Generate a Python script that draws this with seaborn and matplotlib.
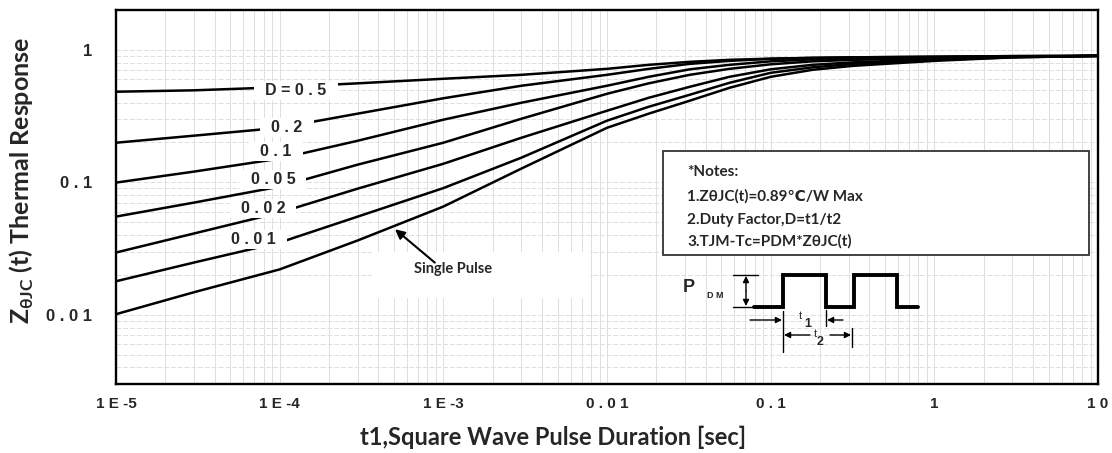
import numpy as np
import pandas as pd
import matplotlib.pyplot as plt
import seaborn as sns
from matplotlib.patches import Rectangle
from matplotlib.ticker import LogLocator, NullFormatter

# pulse duration [sec]
t = [1e-5, 3e-5, 1e-4, 3e-4, 1e-3, 3e-3, 1e-2, 1.8e-2, 3.2e-2, 5.6e-2, 0.1, 0.18, 0.32, 1, 3, 10]

# normalized thermal response for each duty factor
z_d05 = [0.483, 0.495, 0.522, 0.559, 0.605, 0.648, 0.719, 0.771, 0.812, 0.841, 0.858, 0.870, 0.878, 0.889, 0.897, 0.901]
z_d02 = [0.199, 0.225, 0.258, 0.330, 0.431, 0.536, 0.648, 0.719, 0.784, 0.826, 0.856, 0.870, 0.878, 0.886, 0.897, 0.901]
z_d01 = [0.0995, 0.1205, 0.151, 0.206, 0.297, 0.399, 0.536, 0.626, 0.713, 0.771, 0.819, 0.848, 0.863, 0.878, 0.893, 0.901]
z_d005 = [0.0551, 0.0703, 0.0928, 0.136, 0.199, 0.302, 0.466, 0.559, 0.648, 0.719, 0.778, 0.819, 0.841, 0.863, 0.886, 0.901]
z_d002 = [0.0295, 0.0411, 0.0591, 0.0896, 0.138, 0.217, 0.347, 0.435, 0.526, 0.626, 0.713, 0.771, 0.805, 0.848, 0.886, 0.901]
z_d001 = [0.0179, 0.0248, 0.0351, 0.0551, 0.0904, 0.1535, 0.292, 0.372, 0.458, 0.564, 0.671, 0.738, 0.784, 0.841, 0.878, 0.901]
z_single = [0.0101, 0.0148, 0.0220, 0.0364, 0.0656, 0.127, 0.258, 0.330, 0.413, 0.517, 0.626, 0.707, 0.758, 0.826, 0.878, 0.901]

curve_names = ["0.5", "0.2", "0.1", "0.05", "0.02", "0.01", "single"]
curve_values = [z_d05, z_d02, z_d01, z_d005, z_d002, z_d001, z_single]
curve_labels = ["D = 0 . 5", "0 . 2", "0 . 1", "0 . 0 5", "0 . 0 2", "0 . 0 1"]

x_ticks = [1e-5, 1e-4, 1e-3, 1e-2, 1e-1, 1, 10]
x_tick_labels = ["1 E -5", "1 E -4", "1 E -3", "0 . 0 1", "0 . 1", "1", "1 0"]
y_ticks = [0.01, 0.1, 1]
y_tick_labels = ["0 . 0 1", "0 . 1", "1"]

notes = ["*Notes:", "1.Z\u03b8JC(t)=0.89\u2103/W Max", "2.Duty Factor,D=t1/t2", "3.TJM-Tc=PDM*Z\u03b8JC(t)"]

rows = []
for name, vals in zip(curve_names, curve_values):
    for ti, zi in zip(t, vals):
        rows.append({"t": ti, "z": zi, "D": name})
df = pd.DataFrame(rows)

sns.set_style("white")
plt.rcParams['font.family'] = ['Liberation Sans', 'DejaVu Sans']
calibri = ['Lato', 'DejaVu Sans']

W, H = 1112, 453
L, R, T, B = 116, 1098, 10, 384
fig = plt.figure(figsize=(W / 100, H / 100), dpi=100)
ax = fig.add_axes([L / W, 1 - B / H, (R - L) / W, (B - T) / H])


def P(x, y):
    # pixel position (from top-left of image) -> axes fraction
    return ((x - L) / (R - L), (B - y) / (B - T))


sns.lineplot(data=df, x="t", y="z", units="D", estimator=None, sort=False,
             color="black", lw=1.8, ax=ax, legend=False, zorder=3)

ax.set_xscale("log")
ax.set_yscale("log")
ax.set_xlim(1e-5, 10)
ax.set_ylim(0.003, 2)
ax.set_xlabel("")
ax.set_ylabel("")

ax.set_xticks(x_ticks)
ax.set_xticklabels(x_tick_labels, fontsize=11, fontweight="bold")
ax.set_yticks(y_ticks)
ax.set_yticklabels(y_tick_labels, fontsize=12, fontweight="bold")
for axis in (ax.xaxis, ax.yaxis):
    axis.set_minor_locator(LogLocator(base=10, subs=np.arange(2, 10)))
    axis.set_minor_formatter(NullFormatter())

ax.tick_params(which="both", direction="in", top=False, right=False, color="black")
ax.tick_params(axis="y", which="major", length=9, width=1.3, pad=17)
ax.tick_params(axis="y", which="minor", length=5, width=1.3)
ax.tick_params(axis="x", which="major", length=8, width=1.3, pad=9)
ax.tick_params(axis="x", which="minor", length=5, width=1.3)

ax.set_axisbelow(True)
ax.xaxis.grid(True, which="both", color="#dedede", lw=0.7)
ax.yaxis.grid(True, which="both", color="#dedede", lw=0.7, ls=(0, (5, 2)))
for s in ax.spines.values():
    s.set_linewidth(1.7)
    s.set_color("black")

# labels on the curves
label_pos = [(1.26e-4, 0.4935), (1.11e-4, 0.26), (9.5e-5, 0.1713),
             (9.1e-5, 0.1047), (7.9e-5, 0.063), (6.9e-5, 0.037)]
for (lx, ly), txt in zip(label_pos, curve_labels):
    ax.text(lx, ly, "  " + txt + "  ", ha="center", va="center", fontsize=11.5,
            fontweight="bold", zorder=4,
            bbox=dict(fc="white", ec="none", pad=1.5))

# single pulse label
ax.add_patch(Rectangle(P(372, 298), (590 - 372) / (R - L), 46 / (B - T),
                       transform=ax.transAxes, fc="white", ec="none", zorder=1.5))
ax.text(1.15e-3, 0.022, "Single Pulse", ha="center", va="center", fontsize=10.5,
        fontweight="bold", family=calibri, zorder=4)
ax.annotate("", xy=(4.92e-4, 0.0456), xytext=(9.14e-4, 0.024),
            arrowprops=dict(arrowstyle="-|>", color="black", lw=1.5, mutation_scale=14),
            zorder=4)

# notes box
x0, y0 = P(663, 255)
x1, y1 = P(1089, 151)
ax.add_patch(Rectangle((x0, y0), x1 - x0, y1 - y0, transform=ax.transAxes,
                       fc="white", ec="#333333", lw=1.3, zorder=5, clip_on=False))
for txt, yy in zip(notes, [172, 196, 220, 241]):
    ax.text(*P(687, yy), txt, transform=ax.transAxes, ha="left", va="center",
            fontsize=11, fontweight="bold", family=calibri, zorder=6)

# pulse waveform sketch
wx = [754, 783, 783, 826, 826, 854, 854, 897, 897, 918]
wy = [307, 307, 275, 275, 307, 307, 275, 275, 307, 307]
pts = [P(a, b) for a, b in zip(wx, wy)]
ax.plot([p[0] for p in pts], [p[1] for p in pts], transform=ax.transAxes,
        color="black", lw=2.8, solid_joinstyle="miter", clip_on=False, zorder=6)


def seg(xa, ya, xb, yb, lw=1.0):
    pa, pb = P(xa, ya), P(xb, yb)
    ax.plot([pa[0], pb[0]], [pa[1], pb[1]], transform=ax.transAxes,
            color="black", lw=lw, clip_on=False, zorder=6)


def arrow(xa, ya, xb, yb):
    ax.annotate("", xy=P(xb, yb), xytext=P(xa, ya), xycoords="axes fraction",
                textcoords="axes fraction", zorder=6,
                arrowprops=dict(arrowstyle="-|>", color="black", lw=1.0,
                                mutation_scale=9, shrinkA=0, shrinkB=0))


seg(733, 275, 758, 275)
seg(733, 307, 758, 307)
arrow(746, 291, 746, 276)
arrow(746, 291, 746, 306)
seg(783, 311, 783, 352)
seg(826, 310, 826, 326)
seg(852, 328, 852, 347)
arrow(750, 320, 782, 320)
arrow(843, 320, 827, 320)
arrow(810, 335, 784, 335)
arrow(830, 335, 851, 335)
ax.text(*P(689, 287), "P", transform=ax.transAxes, ha="center", va="center",
        fontsize=13, fontweight="bold", zorder=6)
ax.text(*P(715, 295), "D M", transform=ax.transAxes, ha="center", va="center",
        fontsize=6.5, fontweight="bold", zorder=6)
ax.text(*P(800, 316), "t", transform=ax.transAxes, ha="center", va="center",
        fontsize=8, zorder=6)
ax.text(*P(808, 324), "1", transform=ax.transAxes, ha="center", va="center",
        fontsize=9, fontweight="bold", zorder=6)
ax.text(*P(815, 334), "t", transform=ax.transAxes, ha="center", va="center",
        fontsize=8, zorder=6)
ax.text(*P(820, 342), "2", transform=ax.transAxes, ha="center", va="center",
        fontsize=9, fontweight="bold", zorder=6)

# axis titles
fig.text(553 / W, 1 - 437 / H, "t1,Square Wave Pulse Duration [sec]", ha="center",
         va="center", fontsize=17, fontweight="bold", family=calibri)
fig.text(22 / W, 1 - 180 / H, "Z$_{\\mathregular{\u03b8JC}}$ (t) Thermal Response",
         rotation=90, ha="center", va="center", fontsize=18, fontweight="bold",
         family=calibri)

fig.savefig("out.png", dpi=100)
